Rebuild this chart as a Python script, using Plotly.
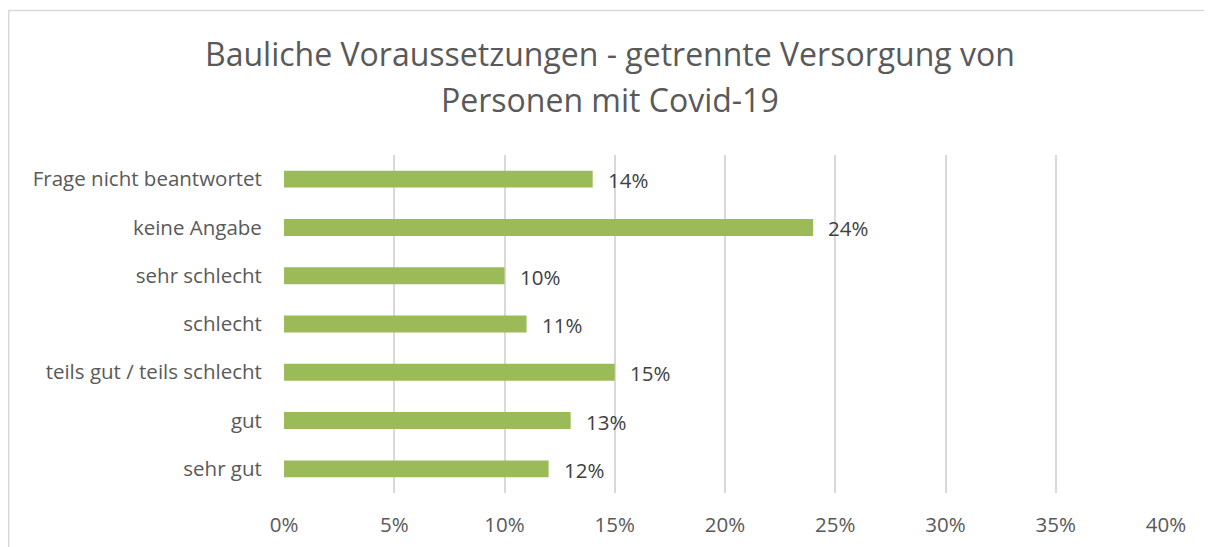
import plotly.graph_objects as go

categories = ["sehr gut", "gut", "teils gut / teils schlecht", "schlecht",
              "sehr schlecht", "keine Angabe", "Frage nicht beantwortet"]
values = [0.12, 0.13, 0.15, 0.11, 0.10, 0.24, 0.14]
tick_vals = [0, 0.05, 0.10, 0.15, 0.20, 0.25, 0.30, 0.35, 0.40]
tick_text = ["0%", "5%", "10%", "15%", "20%", "25%", "30%", "35%", "40%"]
labels = [f"{round(v*100)}%" for v in values]
title_lines = ["Bauliche Voraussetzungen - getrennte Versorgung von",
               "Personen mit Covid-19"]

# page has 8px body margin; figure sized to fit the window
W, H = 1204, 539
L, R, T, B = 276, 46, 147, 54
pw, ph = W - L - R, H - T - B

font = "Open Sans"

fig = go.Figure(go.Bar(
    y=categories, x=values, orientation="h",
    marker=dict(color="#9BBB59", line=dict(width=0)),
    width=0.35, hoverinfo="x+y",
))

title_y_px = [45, 91]  # centre of each title line, from the top of the figure
annotations = [dict(
    x=(W / 2 - L) / pw, y=(H - B - ypx) / ph, xref="paper", yref="paper",
    text=line, showarrow=False, xanchor="center", yanchor="middle",
    font=dict(family=font, size=32, color="#595959"),
) for line, ypx in zip(title_lines, title_y_px)]
annotations += [dict(
    x=v, y=c, xref="x", yref="y", text=t, showarrow=False,
    xanchor="left", yanchor="middle", xshift=13, yshift=-1,
    font=dict(family=font, size=20.5, color="#404040"),
) for v, c, t in zip(values, categories, labels)]

fig.update_layout(
    width=W, height=H,
    margin=dict(l=L, r=R, t=T, b=B, autoexpand=False),
    paper_bgcolor="white", plot_bgcolor="white",
    showlegend=False,
    xaxis=dict(
        range=[0, 0.40], tickvals=tick_vals, ticktext=tick_text,
        showgrid=True, gridcolor="#D9D9D9", gridwidth=1.5,
        zeroline=False, showline=False, automargin=False,
        ticks="outside", ticklen=13, tickcolor="rgba(0,0,0,0)",
        tickfont=dict(family=font, size=20.5, color="#595959"),
    ),
    yaxis=dict(
        categoryorder="array", categoryarray=categories,
        showgrid=False, zeroline=False, showline=False, automargin=False,
        ticks="outside", ticklen=17, tickcolor="rgba(0,0,0,0)",
        tickfont=dict(family=font, size=20.5, color="#595959"),
    ),
    annotations=annotations,
    shapes=[dict(
        type="rect", xref="paper", yref="paper",
        x0=(0.75 - L) / pw, x1=(W + 20 - L) / pw,
        y0=-(B + 20) / ph, y1=(H - 2.5 - B) / ph,
        line=dict(color="#D9D9D9", width=1.5), fillcolor="rgba(0,0,0,0)",
        layer="below",
    )],
)

fig.write_html("out.html")
